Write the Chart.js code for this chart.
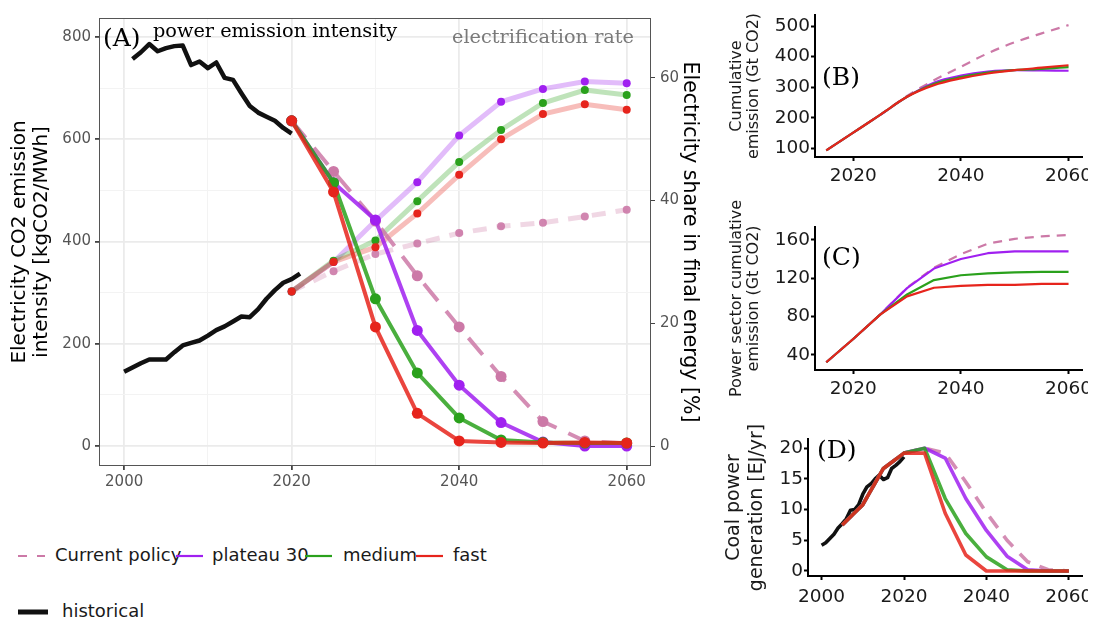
<!DOCTYPE html>
<html>
<head>
<meta charset="utf-8">
<script src="https://cdn.jsdelivr.net/npm/chart.js@4.4.1/dist/chart.umd.min.js"></script>
<style>
  body { margin: 0; background: #fff; }
  #page { position: relative; width: 1103px; height: 626px; overflow: hidden; font-family: "DejaVu Sans", sans-serif; }
  canvas { position: absolute; }
  .leg { position: absolute; font-size: 18px; line-height: 20px; color: #1a1a1a; white-space: nowrap; }
  .sw { position: absolute; }
</style>
</head>
<body>
<div id="page">
  <canvas id="chartA" width="705" height="500" style="left:0;top:0"></canvas>
  <canvas id="chartB" width="388" height="190" style="left:700px;top:0"></canvas>
  <canvas id="chartC" width="388" height="215" style="left:700px;top:190px"></canvas>
  <canvas id="chartD" width="388" height="221" style="left:700px;top:405px"></canvas>
  <div id="legend"></div>
</div>
<script>
// scenarios
const scenarioNames = ['Current policy', 'plateau 30', 'medium', 'fast'];
const scenarioColors = ['#cc79a7', '#a020f0', '#2aa11c', '#e6241c'];

// panel A - historical
const histIntYears = [2001, 2002, 2003, 2004, 2005, 2006, 2007, 2008, 2009, 2010, 2011, 2012, 2013, 2014, 2015, 2016, 2017, 2018, 2019, 2020];
const histIntensity = [757, 770, 786, 772, 778, 782, 783, 745, 752, 739, 750, 720, 716, 690, 665, 652, 644, 636, 622, 611];
const histElecYears = [2000, 2001, 2002, 2003, 2004, 2005, 2006, 2007, 2008, 2009, 2010, 2011, 2012, 2013, 2014, 2015, 2016, 2017, 2018, 2019, 2020, 2021];
const histElec = [12.1, 12.8, 13.5, 14.1, 14.1, 14.1, 15.3, 16.4, 16.8, 17.2, 18.0, 18.9, 19.5, 20.3, 21.1, 21.0, 22.3, 24.0, 25.4, 26.6, 27.2, 28.1];

// panel A - scenarios (left axis: intensity, right axis: electrification)
const yearsA = [2020, 2025, 2030, 2035, 2040, 2045, 2050, 2055, 2060];
const intensityCurrent = [636, 537, 440, 333, 233, 136, 48, 10, 5];
const intensityPlateau = [636, 515, 442, 226, 119, 46, 8, 0, 0];
const intensityMedium = [636, 515, 288, 143, 55, 12, 7, 6, 6];
const intensityFast = [636, 497, 233, 64, 10, 7, 6, 7, 6];
const elecCurrent = [25.2, 28.5, 31.3, 33.0, 34.7, 35.8, 36.4, 37.4, 38.5];
const elecPlateau = [25.2, 30.0, 36.7, 43.0, 50.6, 56.1, 58.2, 59.4, 59.1];
const elecMedium = [25.2, 30.2, 33.5, 39.9, 46.3, 51.5, 55.9, 58.0, 57.2];
const elecFast = [25.2, 30.0, 32.4, 37.9, 44.2, 50.0, 54.1, 55.7, 54.8];
const intensityA = [intensityCurrent, intensityPlateau, intensityMedium, intensityFast];
const elecA = [elecCurrent, elecPlateau, elecMedium, elecFast];

const gridYearsA = [2000, 2010, 2020, 2030, 2040, 2050, 2060];
const yearLabelsA = [2000, 2020, 2040, 2060];
const gridIntensity = [0, 100, 200, 300, 400, 500, 600, 700, 800];
const elecTicks = [0, 20, 40, 60];

// panel B - cumulative emission
const yearsBC = [2015, 2020, 2025, 2030, 2035, 2040, 2045, 2050, 2055, 2060];
const cumCurrent = [94, 152, 210, 272, 323, 367, 411, 447, 476, 503];
const cumPlateau = [94, 152, 210, 269, 315, 338, 351, 356, 355, 354];
const cumMedium = [94, 152, 210, 269, 311, 333, 348, 356, 360, 366];
const cumFast = [94, 152, 210, 269, 307, 329, 345, 356, 364, 372];
const ticksB = [100, 200, 300, 400, 500];

// panel C - power sector cumulative emission
const powCurrent = [32.4, 56.6, 82, 110, 131, 145, 156, 161, 163.5, 165];
const powPlateau = [32.4, 56.6, 82, 109.6, 130, 140, 146, 148, 148, 148];
const powMedium = [32.4, 56.6, 82, 103, 118, 123, 125, 126, 126.5, 126.5];
const powFast = [32.4, 56.6, 82, 101, 110, 112, 113, 113, 114, 114];
const ticksC = [40, 80, 120, 160];
const yearTicksBC = [2020, 2040, 2060];

// panel D - coal power generation
const coalHistYears = [2000, 2001, 2002, 2003, 2004, 2005, 2006, 2007, 2008, 2009, 2010, 2011, 2012, 2013, 2014, 2015, 2016, 2017, 2018, 2019, 2020];
const coalHist = [4.2, 4.6, 5.3, 6.0, 7.0, 7.7, 8.5, 9.9, 10.0, 10.8, 12.5, 13.7, 14.2, 15.0, 15.6, 14.9, 15.2, 16.7, 17.2, 17.8, 18.6];
const yearsD = [2005, 2010, 2015, 2020, 2025, 2030, 2035, 2040, 2045, 2050, 2055, 2060];
const coalCurrent = [7.5, 10.8, 16.7, 19.2, 20.0, 19.2, 14.5, 9.5, 5.0, 1.5, 0.2, 0];
const coalPlateau = [7.5, 10.8, 16.7, 19.2, 20.0, 18.4, 11.8, 6.6, 2.4, 0.2, 0, 0];
const coalMedium = [7.5, 10.8, 16.7, 19.2, 20.0, 11.8, 6.1, 2.3, 0.2, 0, 0, 0];
const coalFast = [7.5, 10.8, 16.7, 19.2, 19.2, 9.4, 2.6, 0, 0, 0, 0, 0];
const ticksD = [0, 5, 10, 15, 20];
const yearTicksD = [2000, 2020, 2040, 2060];

Chart.defaults.font.family = '"DejaVu Sans", sans-serif';

const pts = (xs, ys) => xs.map((x, i) => ({ x: x, y: ys[i] }));
function fade(hex, a) {
  const n = parseInt(hex.slice(1), 16);
  return `rgba(${n >> 16},${(n >> 8) & 255},${n & 255},${a})`;
}
const setTicks = vals => s => { s.ticks = vals.map(v => ({ value: v })); };

// frame + text for panel A
const panelAText = {
  id: 'panelAText',
  afterDraw(c) {
    const a = c.chartArea, ctx = c.ctx;
    ctx.save();
    ctx.strokeStyle = '#555';
    ctx.lineWidth = 1;
    ctx.strokeRect(a.left + 0.5, a.top + 0.5, a.right - a.left - 1, a.bottom - a.top - 1);
    ctx.textBaseline = 'middle';
    ctx.fillStyle = '#000';
    ctx.font = '25px "DejaVu Serif"';
    ctx.fillText('(A)', a.left + 4, a.top + 21);
    ctx.font = '19.3px "DejaVu Serif"';
    ctx.fillText('power emission intensity', a.left + 54, a.top + 14);
    ctx.fillStyle = '#7a7a7a';
    ctx.textAlign = 'right';
    ctx.fillText('electrification rate', a.right - 17, a.top + 20);
    ctx.restore();
  }
};

const dsA = [];
dsA.push({ data: pts(histIntYears, histIntensity), yAxisID: 'yL', borderColor: '#111', borderWidth: 4.5, pointRadius: 0, borderJoinStyle: 'round' });
dsA.push({ data: pts(histElecYears, histElec), yAxisID: 'yR', borderColor: '#111', borderWidth: 4.5, pointRadius: 0, borderJoinStyle: 'round' });
scenarioNames.forEach((n, i) => {
  const c = scenarioColors[i];
  dsA.push({
    label: n + ' elec', data: pts(yearsA, elecA[i]), yAxisID: 'yR',
    borderColor: fade(c, 0.3), borderWidth: 5, borderDash: i === 0 ? [14, 10] : [],
    pointRadius: 4, pointBackgroundColor: i === 0 ? fade(c, 0.9) : c, pointBorderWidth: 0
  });
});
scenarioNames.forEach((n, i) => {
  const c = scenarioColors[i];
  dsA.push({
    label: n, data: pts(yearsA, intensityA[i]), yAxisID: 'yL',
    borderColor: fade(c, 0.85), borderWidth: 4, borderDash: i === 0 ? [22, 13] : [],
    pointRadius: 5.5, pointBackgroundColor: c, pointBorderWidth: 0
  });
});

new Chart(document.getElementById('chartA'), {
  type: 'line',
  data: { datasets: dsA.reverse() },
  options: {
    responsive: false, animation: false, events: [],
    layout: { padding: { top: 18, left: 0, right: 0, bottom: 0 } },
    plugins: { legend: { display: false }, tooltip: { enabled: false } },
    scales: {
      x: {
        type: 'linear', min: 1997, max: 2062.9,
        afterBuildTicks: setTicks(gridYearsA),
        ticks: { autoSkip: false, maxRotation: 0, padding: 3, color: '#555', font: { size: 15 },
          callback: v => yearLabelsA.includes(v) ? String(v) : '' },
        grid: { tickLength: 4,
          color: ctx => yearLabelsA.includes(ctx.tick.value) ? '#ebebeb' : '#f3f3f3',
          lineWidth: ctx => yearLabelsA.includes(ctx.tick.value) ? 1.8 : 1,
          tickColor: ctx => yearLabelsA.includes(ctx.tick.value) ? '#444' : 'rgba(0,0,0,0)' },
        border: { display: false },
        afterFit: s => { s.height = 34; s.paddingLeft = 0; s.paddingRight = 0; }
      },
      yL: {
        position: 'left', min: -39, max: 837,
        afterBuildTicks: setTicks(gridIntensity),
        ticks: { autoSkip: false, padding: 4, color: '#555', font: { size: 15 },
          callback: v => v % 200 === 0 ? String(v) : '' },
        grid: { tickLength: 4,
          color: ctx => ctx.tick.value % 200 === 0 ? '#ebebeb' : '#f3f3f3',
          lineWidth: ctx => ctx.tick.value % 200 === 0 ? 1.8 : 1,
          tickColor: ctx => ctx.tick.value % 200 === 0 ? '#444' : 'rgba(0,0,0,0)' },
        border: { display: false },
        title: { display: true, text: ['Electricity CO2 emission', 'intensity [kgCO2/MWh]'], color: '#000',
          font: { size: 20, lineHeight: 1.1 }, padding: { top: 9, bottom: 0 } },
        afterFit: s => { s.width = 99; s.paddingTop = 0; s.paddingBottom = 0; }
      },
      yR: {
        position: 'right', min: -3.25, max: 69.75,
        afterBuildTicks: setTicks(elecTicks),
        ticks: { autoSkip: false, padding: 5, color: '#555', font: { size: 15 }, callback: v => String(v) },
        grid: { drawOnChartArea: false, tickLength: 4, tickColor: '#444' },
        border: { display: false },
        title: { display: true, text: 'Electricity share in final energy [%]', color: '#000',
          font: { size: 20.5, lineHeight: 1.1 }, padding: { top: 4, bottom: 0 } },
        afterFit: s => { s.width = 54; s.paddingTop = 0; s.paddingBottom = 0; }
      }
    }
  },
  plugins: [panelAText]
});

function panel(id, cfg) {
  const datasets = [];
  if (cfg.hist) {
    datasets.push({ data: pts(cfg.hist[0], cfg.hist[1]), borderColor: '#111', borderWidth: cfg.lw, pointRadius: 0, borderJoinStyle: 'round' });
  }
  scenarioNames.forEach((n, i) => {
    datasets.push({
      label: n, data: pts(cfg.years, cfg.series[i]),
      borderColor: fade(scenarioColors[i], cfg.alpha), borderWidth: cfg.lw,
      borderDash: i === 0 ? cfg.dash : [], pointRadius: 0, borderJoinStyle: 'round',
      cubicInterpolationMode: cfg.smooth ? 'monotone' : 'default'
    });
  });
  const label = {
    id: 'lbl' + id,
    afterDraw(c) {
      const a = c.chartArea, ctx = c.ctx;
      ctx.save();
      ctx.font = '25px "DejaVu Serif"';
      ctx.fillStyle = '#000';
      ctx.textBaseline = 'middle';
      ctx.fillText(cfg.label, a.left + cfg.lx, a.top + cfg.ly);
      ctx.restore();
    }
  };
  new Chart(document.getElementById(id), {
    type: 'line',
    data: { datasets: datasets.reverse() },
    options: {
      responsive: false, animation: false, events: [],
      layout: { padding: { top: cfg.top, left: 0, right: 6, bottom: 0 } },
      plugins: { legend: { display: false }, tooltip: { enabled: false } },
      scales: {
        x: {
          type: 'linear', min: cfg.xr[0], max: cfg.xr[1],
          afterBuildTicks: setTicks(cfg.xTicks),
          ticks: { autoSkip: false, maxRotation: 0, padding: cfg.xpad, color: '#1a1a1a', font: { size: 18.5 }, callback: v => String(v) },
          grid: { drawOnChartArea: false, tickLength: 4, tickColor: '#000', tickWidth: 2 },
          border: { display: true, color: '#000', width: 2 },
          afterFit: s => { s.height = cfg.xh; s.paddingLeft = 0; s.paddingRight = 0; }
        },
        y: {
          min: cfg.yr[0], max: cfg.yr[1],
          afterBuildTicks: setTicks(cfg.yTicks),
          ticks: { autoSkip: false, padding: 1, color: '#1a1a1a', font: { size: 18.5 }, callback: v => String(v) },
          grid: { drawOnChartArea: false, tickLength: 4, tickColor: '#000', tickWidth: 2 },
          border: { display: true, color: '#000', width: 2 },
          title: { display: true, text: cfg.title, color: '#1a1a1a',
            font: { size: cfg.tfs, lineHeight: cfg.tlh }, padding: { top: cfg.tpad, bottom: 0 } },
          afterFit: s => { s.width = cfg.yw; s.paddingTop = 0; s.paddingBottom = 0; }
        }
      }
    },
    plugins: [label]
  });
}

panel('chartB', {
  years: yearsBC, series: [cumCurrent, cumPlateau, cumMedium, cumFast], smooth: true,
  lw: 2.2, alpha: 1, dash: [9, 7], xr: [2012.9, 2062.5], yr: [72.5, 536],
  xTicks: yearTicksBC, yTicks: ticksB, top: 15, xh: 33, yw: 115, xpad: 4,
  title: ['Cumulative', 'emission (Gt CO2)'], tfs: 16, tlh: 1.05, tpad: 28.6,
  label: '(B)', lx: 7, ly: 63
});
panel('chartC', {
  years: yearsBC, series: [powCurrent, powPlateau, powMedium, powFast], smooth: false,
  lw: 2.2, alpha: 1, dash: [9, 7], xr: [2012.9, 2062.5], yr: [24.3, 173.3],
  xTicks: yearTicksBC, yTicks: ticksC, top: 37, xh: 35, yw: 115, xpad: 4,
  title: ['Power sector cumulative', 'emission (Gt CO2)'], tfs: 16, tlh: 1.05, tpad: 28.6,
  label: '(C)', lx: 7, ly: 31
});
panel('chartD', {
  years: yearsD, series: [coalCurrent, coalPlateau, coalMedium, coalFast], smooth: false,
  hist: [coalHistYears, coalHist],
  lw: 3.6, alpha: 0.85, dash: [14, 10], xr: [1996.7, 2063.2], yr: [-0.82, 21.5],
  xTicks: yearTicksD, yTicks: ticksD, top: 34, xh: 50, yw: 108, xpad: 6,
  title: ['Coal power', 'generation [EJ/yr]'], tfs: 19, tlh: 1.2, tpad: 22.6,
  label: '(D)', lx: 9, ly: 12
});

// legend (HTML, built from the scenario arrays)
const legendSlots = [[18, 55], [176, 212], [305, 343], [416, 453]];
const legendRowY = [556, 612];
const leg = document.getElementById('legend');
scenarioNames.forEach((n, i) => {
  const [sx, tx] = legendSlots[i];
  const dash = i === 0 ? ' stroke-dasharray="9 10"' : '';
  leg.insertAdjacentHTML('beforeend',
    `<svg class="sw" style="left:${sx}px;top:${legendRowY[0] - 3}px" width="27" height="6"><line x1="0" y1="3" x2="27" y2="3" stroke="${scenarioColors[i]}" stroke-width="2.2"${dash}/></svg>` +
    `<div class="leg" style="left:${tx}px;top:${legendRowY[0] - 11}px">${n}</div>`);
});
leg.insertAdjacentHTML('beforeend',
  `<svg class="sw" style="left:18px;top:${legendRowY[1] - 4}px" width="30" height="8"><line x1="0" y1="4" x2="30" y2="4" stroke="#111" stroke-width="5"/></svg>` +
  `<div class="leg" style="left:62px;top:${legendRowY[1] - 11}px">historical</div>`);
</script>
</body>
</html>
